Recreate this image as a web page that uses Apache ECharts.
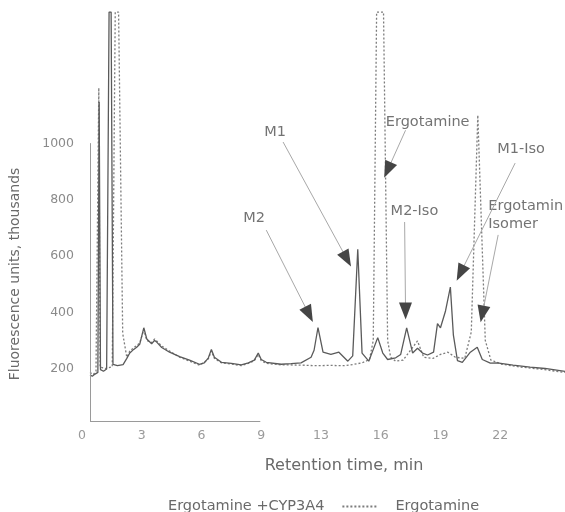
<!DOCTYPE html>
<html>
<head>
<meta charset="utf-8">
<script src="https://cdn.jsdelivr.net/npm/echarts@6/dist/echarts.min.js"></script>
<style>
  html, body { margin: 0; padding: 0; background: #ffffff; }
  #chart { width: 565px; height: 512px; }
</style>
</head>
<body>
<div id="chart"></div>
<script>
// Retention-time tick labels (ticks every 3.2 min, printed rounded)
const TICK_LABELS = ['0', '3', '6', '9', '13', '16', '19', '22'];
const TICK_STEP = 3.2;
// Signal tick labels shown on the left axis
const SIGNAL_TICKS = [200, 400, 600, 800, 1000];

// Fluorescence signal, thousands of units: [retention time (min), signal]
const incubated = [
  [0.43, 178], [0.55, 172], [0.7, 180], [0.85, 186], [0.92, 1150], [0.99, 196],
  [1.15, 190], [1.32, 198], [1.45, 1470], [1.56, 1470], [1.66, 215], [1.9, 210],
  [2.2, 214], [2.4, 236], [2.56, 255], [2.77, 268], [2.93, 276], [3.09, 286],
  [3.31, 345], [3.47, 305], [3.73, 288], [3.89, 300], [4.0, 294], [4.27, 275],
  [4.69, 258], [5.23, 242], [5.76, 230], [6.29, 215], [6.55, 220], [6.77, 238],
  [6.93, 268], [7.09, 240], [7.47, 222], [8.0, 218], [8.53, 213], [8.91, 220],
  [9.23, 230], [9.44, 255], [9.6, 232], [9.87, 222], [10.67, 215], [11.2, 217],
  [11.73, 220], [12.27, 240], [12.43, 265], [12.64, 346], [12.91, 258], [13.33, 250],
  [13.76, 258], [14.24, 226], [14.5, 245], [14.77, 625], [15.0, 255], [15.36, 226],
  [15.84, 310], [16.11, 255], [16.37, 232], [16.8, 238], [17.07, 250], [17.39, 345],
  [17.71, 255], [17.97, 272], [18.24, 255], [18.51, 248], [18.83, 258], [19.04, 360],
  [19.2, 345], [19.47, 405], [19.73, 490], [19.89, 320], [20.11, 228], [20.37, 222],
  [20.8, 258], [21.17, 276], [21.44, 232], [21.87, 219], [22.24, 220], [23.09, 212],
  [24.0, 205], [24.8, 200], [25.87, 190]
];

const ergotamine = [
  [0.43, 186], [0.6, 178], [0.75, 190], [0.85, 195], [0.9, 1200], [0.97, 205],
  [1.25, 200], [1.62, 206], [1.78, 1470], [1.96, 1470], [2.18, 325], [2.4, 240],
  [2.56, 262], [2.77, 274], [2.93, 282], [3.09, 291], [3.31, 338], [3.47, 300],
  [3.73, 292], [3.89, 305], [4.0, 298], [4.27, 280], [4.69, 262], [5.23, 240],
  [5.76, 226], [6.29, 212], [6.55, 222], [6.77, 235], [6.93, 262], [7.09, 236],
  [7.47, 220], [8.0, 216], [8.53, 210], [8.91, 218], [9.23, 228], [9.44, 250],
  [9.6, 228], [9.87, 218], [10.67, 213], [11.73, 212], [12.5, 210], [13.3, 211],
  [14.0, 210], [14.5, 214], [15.0, 220], [15.4, 232], [15.6, 300], [15.78, 1470],
  [16.15, 1470], [16.37, 300], [16.53, 240], [16.8, 226], [17.2, 230], [17.97, 298],
  [18.3, 240], [18.8, 236], [19.2, 250], [19.6, 258], [20.0, 240], [20.5, 236],
  [20.85, 330], [21.2, 1103], [21.6, 300], [21.9, 230], [22.5, 215], [23.5, 205],
  [24.5, 198], [25.87, 186]
];

// Peak annotations
const PEAK_NAMES = ['M2', 'M1', 'Ergotamine', 'M2-Iso', 'M1-Iso', 'Ergotamin\nIsomer'];
const NAME_ANCHORS = [[8.64, 736], [9.76, 1042], [16.27, 1078], [16.53, 761], [22.24, 982], [21.76, 746]];
const ARROW_TAILS = [[9.87, 693], [10.77, 1007], [17.33, 1049], [17.28, 722], [23.2, 932], [22.29, 676]];
const ARROW_HEADS = [[12.16, 393], [14.19, 590], [16.37, 907], [17.33, 405], [20.27, 540], [21.44, 394]];

// Axis strokes: the signal axis runs up to 1000, the time axis only under the early part of the run
const SIGNAL_AXIS = [[0.43, 12.8], [0.43, 1003]];
const TIME_AXIS = [[0.43, 12.8], [9.55, 12.8]];

const FONT = 'DejaVu Sans, Verdana, sans-serif';

function segment(a, b, color, endSymbol) {
  return [
    { coord: a, symbol: 'none', lineStyle: { color: color, width: 1, type: 'solid' } },
    endSymbol ? { coord: b, symbol: endSymbol, symbolSize: [13, 17] } : { coord: b, symbol: 'none' }
  ];
}

const guideLines = [
  segment(SIGNAL_AXIS[0], SIGNAL_AXIS[1], '#9a9a9a'),
  segment(TIME_AXIS[0], TIME_AXIS[1], '#9a9a9a')
];
ARROW_TAILS.forEach(function (tail, i) {
  const head = ARROW_HEADS[i];
  guideLines.push(segment(tail, head, '#a8a8a8'));
  const k = 0.06;
  const near = [head[0] + (tail[0] - head[0]) * k, head[1] + (tail[1] - head[1]) * k];
  guideLines.push(segment(near, head, '#454545', 'triangle'));
});

const chart = echarts.init(document.getElementById('chart'), null, { renderer: 'canvas' });

chart.setOption({
  animation: false,
  backgroundColor: '#ffffff',
  grid: { left: 80, right: 0, top: 9.3, bottom: 87.4, containLabel: false },
  legend: {
    left: 110,
    top: 494,
    itemWidth: 34,
    itemHeight: 14,
    itemGap: 17,
    selectedMode: false,
    itemStyle: { opacity: 0 },
    textStyle: { fontFamily: FONT, fontSize: 14.5, color: '#6a6a6a', padding: [0, 0, 0, 14] },
    data: [
      { name: 'Ergotamine +CYP3A4', icon: 'none' },
      { name: 'Ergotamine' }
    ]
  },
  xAxis: {
    type: 'value',
    min: 0,
    max: 25.87,
    interval: TICK_STEP,
    axisLine: { show: false },
    axisTick: { show: false },
    splitLine: { show: false },
    axisLabel: {
      margin: 5,
      fontFamily: FONT,
      fontSize: 12.5,
      color: '#9a9a9a',
      showMaxLabel: false,
      formatter: function (v) {
        const idx = Math.round(v / TICK_STEP);
        return TICK_LABELS[idx] !== undefined ? TICK_LABELS[idx] : '';
      }
    },
    name: 'Retention time, min',
    nameLocation: 'middle',
    nameGap: 33,
    nameTextStyle: { fontFamily: FONT, fontSize: 16, color: '#6a6a6a', padding: [0, 0, 0, 41] }
  },
  yAxis: {
    type: 'value',
    min: 0,
    max: 1480,
    interval: 200,
    offset: -8,
    axisLine: { show: false },
    axisTick: { show: false },
    splitLine: { show: false },
    axisLabel: {
      margin: 16,
      fontFamily: FONT,
      fontSize: 12.5,
      color: '#8a8a8a',
      showMaxLabel: false,
      formatter: function (v) { return SIGNAL_TICKS.indexOf(v) >= 0 ? String(v) : ''; }
    },
    name: 'Fluorescence units, thousands',
    nameLocation: 'middle',
    nameRotate: 90,
    nameGap: 68,
    nameTextStyle: { fontFamily: FONT, fontSize: 14, color: '#6a6a6a', padding: [0, 114, 0, 0] }
  },
  series: [
    {
      name: 'Ergotamine',
      type: 'line',
      data: ergotamine,
      symbol: 'none',
      z: 2,
      lineStyle: { color: '#7c7c7c', width: 1.3, type: [2, 2] }
    },
    {
      name: 'Ergotamine +CYP3A4',
      type: 'line',
      data: incubated,
      symbol: 'none',
      z: 3,
      lineStyle: { color: '#5a5a5a', width: 1.3, type: 'solid' }
    },
    {
      name: 'peaks',
      type: 'scatter',
      silent: true,
      symbolSize: 0,
      z: 4,
      data: PEAK_NAMES.map(function (n, i) { return { name: n, value: NAME_ANCHORS[i] }; }),
      label: {
        show: true,
        position: 'right',
        distance: 0,
        formatter: '{b}',
        fontFamily: FONT,
        fontSize: 14.5,
        lineHeight: 18,
        color: '#505050',
        align: 'left'
      },
      markLine: {
        silent: true,
        animation: false,
        symbol: ['none', 'none'],
        label: { show: false },
        emphasis: { disabled: true },
        data: guideLines
      }
    }
  ]
});
</script>
</body>
</html>
